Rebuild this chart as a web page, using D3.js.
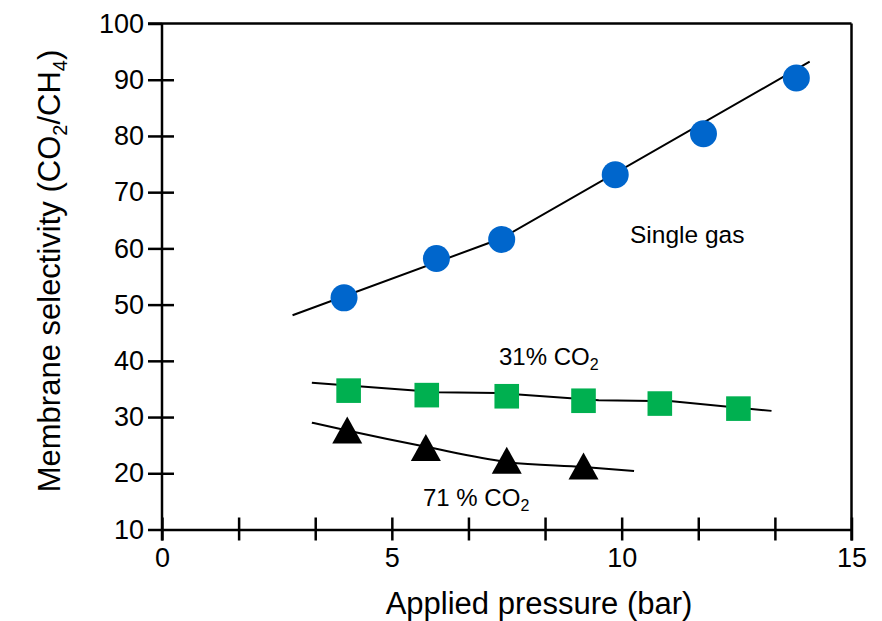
<!DOCTYPE html>
<html>
<head>
<meta charset="utf-8">
<script src="https://cdn.jsdelivr.net/npm/d3@7"></script>
<style>
  body { margin: 0; background: #fff; }
  svg text { font-family: Arial, "Liberation Sans", sans-serif; fill: #000; }
</style>
</head>
<body>
<div id="chart"></div>
<script>
// measured values (pressure in bar, selectivity CO2/CH4)
const singleP = [3.96, 5.97, 7.39, 9.86, 11.78, 13.80];
const singleS = [51.2, 58.2, 61.6, 73.1, 80.4, 90.3];
const singleFitP = [2.84, 7.39, 14.09];
const singleFitS = [48.1, 61.8, 93.2];

const mix31P = [4.06, 5.76, 7.50, 9.17, 10.83, 12.54];
const mix31S = [34.7, 33.9, 33.7, 32.9, 32.4, 31.5];
const mix31FitP = [3.26, 6.0, 7.3, 9.5, 11.1, 13.26];
const mix31FitS = [36.1, 34.4, 34.3, 33.0, 32.8, 31.1];

const mix71P = [4.03, 5.74, 7.50, 9.17];
const mix71S = [27.7, 24.6, 22.3, 21.3];
const mix71FitP = [3.26, 4.03, 5.74, 7.50, 9.17, 10.27];
const mix71FitS = [29.0, 27.6, 24.7, 22.0, 21.1, 20.4];

const yTicks = [10, 20, 30, 40, 50, 60, 70, 80, 90, 100];
const xTicks = d3.range(0, 10).map(i => i * 5 / 3);
const xLabels = [0, 5, 10, 15];

const W = 882, H = 621;
const svg = d3.select("#chart").append("svg").attr("width", W).attr("height", H);
svg.append("rect").attr("width", W).attr("height", H).attr("fill", "#fff");

const x = d3.scaleLinear().domain([0, 15]).range([162, 851.5]);
const y = d3.scaleLinear().domain([10, 100]).range([529.5, 23.5]);

// frame: top and right
svg.append("line").attr("x1", 148).attr("x2", x(15)).attr("y1", y(100)).attr("y2", y(100))
  .attr("stroke", "#000").attr("stroke-width", 2.5);
svg.append("line").attr("x1", x(15)).attr("x2", x(15)).attr("y1", y(100)).attr("y2", y(10) + 11)
  .attr("stroke", "#000").attr("stroke-width", 2.5);

// y axis
const yAxis = svg.append("g").attr("transform", "translate(" + x(0) + ",0)")
  .call(d3.axisLeft(y).tickValues(yTicks).tickSize(14).tickPadding(4).tickSizeOuter(0));
yAxis.select(".domain").attr("stroke-width", 2.5).attr("d", "M0," + y(100) + "V" + (y(10) + 11));
yAxis.selectAll(".tick line").attr("stroke-width", 2.5).attr("x1", d => (d == 10 || d == 100) ? 0 : 12);
yAxis.selectAll(".tick text").attr("font-size", 27).attr("font-family", "Arial, 'Liberation Sans', sans-serif");

// x axis
const xAxis = svg.append("g").attr("transform", "translate(0," + y(10) + ")")
  .call(d3.axisBottom(x).tickValues(xTicks).tickSize(11).tickPadding(7).tickSizeOuter(0)
    .tickFormat(d => xLabels.some(v => Math.abs(v - d) < 1e-6) ? d3.format("d")(Math.round(d)) : ""));
xAxis.select(".domain").attr("stroke-width", 2.5);
xAxis.selectAll(".tick line").attr("stroke-width", 2.5).attr("y1", -12);
xAxis.selectAll(".tick text").attr("font-size", 27).attr("font-family", "Arial, 'Liberation Sans', sans-serif");

// axis titles
svg.append("text").attr("x", 539).attr("y", 614).attr("text-anchor", "middle")
  .attr("font-size", 31).text("Applied pressure (bar)");

const yt = svg.append("text").attr("transform", "translate(60,271) rotate(-90)")
  .attr("text-anchor", "middle").attr("font-size", 31);
yt.append("tspan").text("Membrane selectivity (CO");
yt.append("tspan").attr("font-size", 20).attr("dy", 7).text("2");
yt.append("tspan").attr("dy", -7).text("/CH");
yt.append("tspan").attr("font-size", 20).attr("dy", 7).text("4");
yt.append("tspan").attr("dy", -7).text(")");

// trend lines
const line = d3.line().x(d => x(d[0])).y(d => y(d[1]));
const fits = [
  [singleFitP, singleFitS, d3.curveLinear],
  [mix31FitP, mix31FitS, d3.curveLinear],
  [mix71FitP, mix71FitS, d3.curveMonotoneX]
];
fits.forEach(f => {
  svg.append("path").datum(d3.zip(f[0], f[1]))
    .attr("d", line.curve(f[2]))
    .attr("fill", "none").attr("stroke", "#000").attr("stroke-width", 2);
});

// markers
svg.append("g").selectAll("circle").data(d3.zip(singleP, singleS)).enter().append("circle")
  .attr("cx", d => x(d[0])).attr("cy", d => y(d[1])).attr("r", 13.5).attr("fill", "#0066cc");

svg.append("g").selectAll("rect").data(d3.zip(mix31P, mix31S)).enter().append("rect")
  .attr("x", d => x(d[0]) - 12.3).attr("y", d => y(d[1]) - 12.3)
  .attr("width", 24.6).attr("height", 24.6).attr("fill", "#00b050");

svg.append("g").selectAll("path").data(d3.zip(mix71P, mix71S)).enter().append("path")
  .attr("d", d => {
    const cx = x(d[0]), cy = y(d[1]);
    return "M" + cx + "," + (cy - 13.5) + "L" + (cx + 15) + "," + (cy + 13.5) + "L" + (cx - 15) + "," + (cy + 13.5) + "Z";
  })
  .attr("fill", "#000");

// series labels
svg.append("text").attr("x", 630).attr("y", 243).attr("font-size", 24.5).text("Single gas");

const l31 = svg.append("text").attr("x", 499).attr("y", 365).attr("font-size", 24);
l31.append("tspan").text("31% CO");
l31.append("tspan").attr("font-size", 16).attr("dy", 5).text("2");

const l71 = svg.append("text").attr("x", 423).attr("y", 506).attr("font-size", 24);
l71.append("tspan").text("71 % CO");
l71.append("tspan").attr("font-size", 16).attr("dy", 5).text("2");
</script>
</body>
</html>
